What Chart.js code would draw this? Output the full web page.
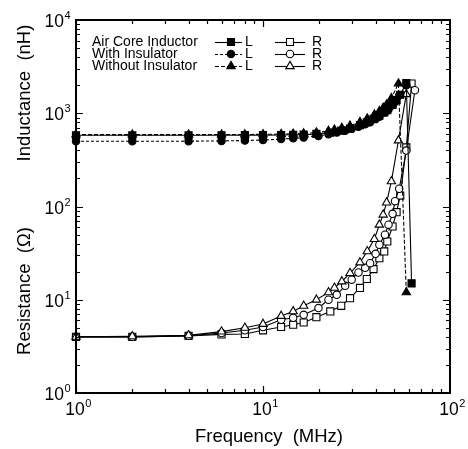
<!DOCTYPE html>
<html><head><meta charset="utf-8">
<script src="https://cdn.jsdelivr.net/npm/chart.js@4/dist/chart.umd.min.js"></script>
<style>html,body{margin:0;padding:0;background:#fff;overflow:hidden}#wrap{position:relative;width:468px;height:449px}</style>
</head><body><div id="wrap"><canvas id="c" width="468" height="449"></canvas></div>
<script>
// ---- data ----
const seriesNames = ['Air Core Inductor', 'With Insulator', 'Without Insulator'];

const freqAir = [1,2,4,6,8,10,12.5,14.5,16.5,19.3,22.9,26.2,29.2,33,35.9,39,41.9,44.5,46.2,49.3,51.8,54.2,58.4,62.3];
const lAir    = [580,580,580,581,582,583,585,587,590,600,620,650,685,745,800,870,940,1020,1080,1230,1380,1580,2100,15];
const rAir    = [4.0,4.0,4.1,4.25,4.3,4.7,5.1,5.4,5.7,6.5,7.5,8.6,10.4,13.4,16.7,21.3,27.9,33,42.1,61,87,131,430,2080];

const freqWith = [1,2,4,6,8,10,12.5,14.5,16.5,19.8,22.4,24.8,27.5,29.8,32.4,35.2,37.4,40,41.9,44.9,46.9,49.3,50.8,53.5,58.4,64.9];
const lWith    = [500,500,502,505,510,517,528,538,550,570,595,620,650,680,715,760,800,865,920,1020,1100,1220,1320,1550,2000,null];
const rWith    = [4.0,4.0,4.1,4.4,4.7,5.1,6.1,6.4,6.9,8.15,10,11.3,14.1,16.4,19.6,22,24.7,31.1,38.9,49.9,63.8,83.4,114,155,398,1765];

const freqWithout = [1,2,4,6,8,10,12.5,14.5,16.5,19.3,22.4,24.1,26.4,29.2,33,36.1,39.4,41.9,43.9,45.8,48.6,53,58.4];
const lWithout    = [590,590,590,591,592,594,598,602,607,620,645,665,695,735,805,875,965,1050,1140,1240,1450,2080,12];
const rWithout    = [4.0,4.05,4.15,4.55,5.0,5.5,6.7,7.5,8.6,10,12,13.4,15.7,19.3,25.1,33,44.7,63.8,81.7,110,186,510,1600];

const xTicks = [1, 10, 100];
const yTicks = [1, 10, 100, 1000, 10000];
const xTitle = 'Frequency  (MHz)';
const yTitleTop = 'Inductance  (nH)';
const yTitleBottom = 'Resistance  (\u03A9)';

// ---- helpers ----
function pts(f, v) { return f.map((x, i) => ({x: x, y: v[i]})).filter(p => p.y != null); }
function mk(label, f, v, style, filled, dash, r) {
  return {label: label, data: pts(f, v), showLine: true, borderColor: '#000', borderWidth: 1.1,
    borderDash: dash, pointStyle: style, pointRadius: r, pointHoverRadius: r, pointBorderWidth: 1.1,
    pointBorderColor: '#000', pointBackgroundColor: filled ? '#000' : '#fff',
    backgroundColor: filled ? '#000' : '#fff', clip: false, tension: 0};
}
const FONT = '"Liberation Sans", Arial, sans-serif';

function marker(ctx, style, x, y, filled) {
  ctx.save();
  ctx.setLineDash([]);
  ctx.lineWidth = 1.1;
  ctx.strokeStyle = '#000';
  ctx.fillStyle = filled ? '#000' : '#fff';
  ctx.beginPath();
  if (style === 'rect') { ctx.rect(x - 3.5, y - 3.5, 7, 7); }
  else if (style === 'circle') { ctx.arc(x, y, 3.7, 0, Math.PI * 2); }
  else { ctx.moveTo(x, y - 4.6); ctx.lineTo(x + 4.2, y + 2.6); ctx.lineTo(x - 4.2, y + 2.6); ctx.closePath(); }
  ctx.fill(); ctx.stroke();
  ctx.restore();
}

function powLabel(ctx, exp, x, y, align) {
  ctx.save();
  ctx.fillStyle = '#000';
  ctx.textBaseline = 'alphabetic';
  ctx.font = '17.5px ' + FONT;
  const w1 = ctx.measureText('10').width;
  ctx.font = '11px ' + FONT;
  const w2 = ctx.measureText(exp).width;
  let x0;
  if (align === 'right') x0 = x - w1 - w2;
  else x0 = x - (w1 + w2) / 2;
  ctx.font = '17.5px ' + FONT;
  ctx.textAlign = 'left';
  ctx.fillText('10', x0, y);
  ctx.font = '11px ' + FONT;
  ctx.fillText(exp, x0 + w1 + 0.5, y - 8);
  ctx.restore();
}

const decor = {
  id: 'decor',
  afterDraw(chart) {
    const ctx = chart.ctx, xs = chart.scales.x, ys = chart.scales.y, ca = chart.chartArea;
    ctx.save();
    ctx.strokeStyle = '#000';
    // minor + major ticks (inside, all four sides)
    ctx.lineWidth = 1.2;
    for (let d = 0; d < 2; d++) for (let m = 1; m <= 9; m++) {
      const v = m * Math.pow(10, d); const px = Math.round(xs.getPixelForValue(v)) + 0.5;
      const len = m === 1 ? 7 : 4;
      ctx.beginPath(); ctx.moveTo(px, ca.bottom); ctx.lineTo(px, ca.bottom - len);
      ctx.moveTo(px, ca.top); ctx.lineTo(px, ca.top + len); ctx.stroke();
    }
    for (let d = 0; d < 4; d++) for (let m = 1; m <= 9; m++) {
      const v = m * Math.pow(10, d); const py = Math.round(ys.getPixelForValue(v)) + 0.5;
      const len = m === 1 ? 7 : 4;
      ctx.beginPath(); ctx.moveTo(ca.left, py); ctx.lineTo(ca.left + len, py);
      ctx.moveTo(ca.right, py); ctx.lineTo(ca.right - len, py); ctx.stroke();
    }
    // box
    ctx.lineWidth = 2;
    ctx.strokeRect(ca.left, ca.top, ca.right - ca.left, ca.bottom - ca.top);
    // tick labels
    xTicks.forEach(v => powLabel(ctx, String(Math.round(Math.log10(v))), xs.getPixelForValue(v) + 2, ca.bottom + 22, 'center'));
    yTicks.forEach(v => powLabel(ctx, String(Math.round(Math.log10(v))), ca.left - 6, ys.getPixelForValue(v) + 7, 'right'));
    // axis titles
    ctx.fillStyle = '#000';
    ctx.font = '18.5px ' + FONT;
    ctx.textAlign = 'center'; ctx.textBaseline = 'alphabetic';
    ctx.fillText(xTitle, (ca.left + ca.right) / 2 + 6, 442);
    ctx.save();
    ctx.translate(30, 93); ctx.rotate(-Math.PI / 2);
    ctx.fillText(yTitleTop, 0, 0);
    ctx.restore();
    ctx.save();
    ctx.translate(30, 291); ctx.rotate(-Math.PI / 2);
    ctx.fillText(yTitleBottom, 0, 0);
    ctx.restore();
    // legend
    const styles = ['rect', 'circle', 'triangle'];
    const dashes = [[], [3, 2], [4, 2]];
    ctx.font = '14px ' + FONT;
    ctx.textAlign = 'left'; ctx.textBaseline = 'middle';
    seriesNames.forEach((name, i) => {
      const y = 42 + 12 * i;
      ctx.fillStyle = '#000';
      ctx.fillText(name, 92, y + 0.5);
      ctx.lineWidth = 1.1;
      ctx.setLineDash(dashes[i]);
      ctx.beginPath(); ctx.moveTo(215, y + 0.5); ctx.lineTo(242, y + 0.5); ctx.stroke();
      ctx.setLineDash([]);
      marker(ctx, styles[i], 231, y, true);
      ctx.fillStyle = '#000';
      ctx.fillText('L', 245, y + 0.5);
      ctx.beginPath(); ctx.moveTo(275, y + 0.5); ctx.lineTo(305, y + 0.5); ctx.stroke();
      marker(ctx, styles[i], 290, y, false);
      ctx.fillStyle = '#000';
      ctx.fillText('R', 312, y + 0.5);
    });
    ctx.restore();
  }
};

new Chart(document.getElementById('c'), {
  type: 'scatter',
  data: {
    datasets: [
      mk('Without Insulator L', freqWithout, lWithout, 'triangle', true, [4, 2], 4.8),
      mk('Air Core Inductor L', freqAir, lAir, 'rect', true, [], 5),
      mk('With Insulator L', freqWith, lWith, 'circle', true, [3, 2], 3.7),
      mk('Without Insulator R', freqWithout, rWithout, 'triangle', false, [], 4.8),
      mk('With Insulator R', freqWith, rWith, 'circle', false, [], 3.7),
      mk('Air Core Inductor R', freqAir, rAir, 'rect', false, [], 5)
    ]
  },
  options: {
    responsive: false, animation: false, devicePixelRatio: 1,
    layout: {padding: {left: 76, right: 18, top: 20, bottom: 56}},
    plugins: {legend: {display: false}, tooltip: {enabled: false}},
    scales: {
      x: {type: 'logarithmic', min: 1, max: 100, display: false},
      y: {type: 'logarithmic', min: 1, max: 10000, display: false}
    }
  },
  plugins: [decor]
});
</script></body></html>
